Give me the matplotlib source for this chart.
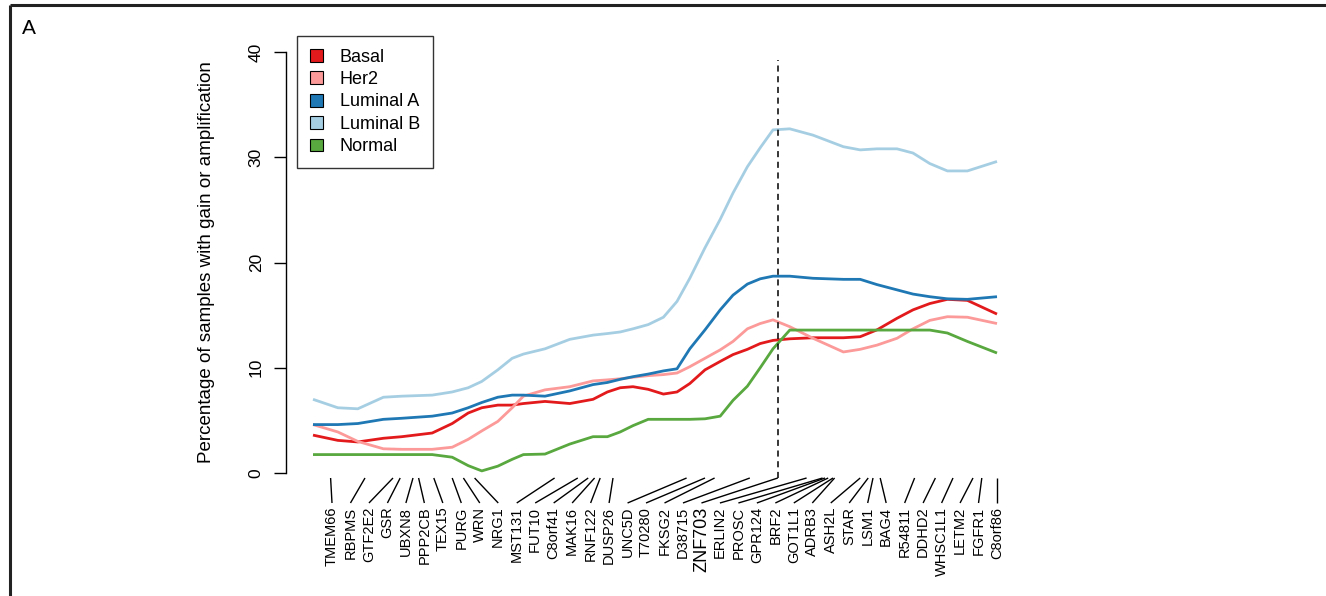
import numpy as np
import matplotlib
matplotlib.use("Agg")
import matplotlib.pyplot as plt
from matplotlib.patches import Patch
from matplotlib.lines import Line2D

plt.rcParams.update({
    "font.family": ["Liberation Sans", "DejaVu Sans"],
    "font.size": 12.5,
    "axes.linewidth": 1.0,
    "lines.solid_capstyle": "butt",
    "lines.solid_joinstyle": "round",
})

# subtype colours
SUBTYPE_COLORS = {
    "Basal": "#E31A1C",
    "Her2": "#FB9A99",
    "Luminal A": "#1F78B4",
    "Luminal B": "#A6CEE3",
    "Normal": "#58A83F",
}

# probe positions along the 8p11-12 region
position = [30.00, 30.31, 30.56, 30.88, 31.11, 31.49, 31.74, 31.94, 32.11, 32.31,
            32.49, 32.63, 32.90, 33.21, 33.50, 33.68, 33.84, 34.00, 34.19, 34.38,
            34.55, 34.71, 34.90, 35.09, 35.25, 35.43, 35.59, 35.75, 35.96, 36.25,
            36.63, 36.84, 37.05, 37.30, 37.50, 37.71, 37.93, 38.18, 38.55]

# percentage of samples with gain or amplification per subtype
basal = [3.6, 3.1, 2.95, 3.3, 3.45, 3.8, 4.7, 5.7, 6.2, 6.45,
         6.45, 6.6, 6.8, 6.6, 7.0, 7.7, 8.1, 8.2, 7.95, 7.5,
         7.7, 8.5, 9.8, 10.6, 11.25, 11.75, 12.3, 12.6, 12.75, 12.85,
         12.85, 12.95, 13.6, 14.7, 15.5, 16.1, 16.5, 16.4, 15.1]
her2 = [4.6, 3.9, 3.0, 2.3, 2.25, 2.25, 2.45, 3.2, 4.0, 4.9,
        6.2, 7.3, 7.9, 8.2, 8.75, 8.85, 8.95, 9.1, 9.25, 9.35,
        9.5, 10.1, 10.9, 11.7, 12.5, 13.7, 14.2, 14.55, 13.9, 12.8,
        11.5, 11.75, 12.15, 12.8, 13.7, 14.5, 14.85, 14.8, 14.2]
luminal_a = [4.6, 4.6, 4.7, 5.1, 5.2, 5.4, 5.7, 6.2, 6.7, 7.2,
             7.4, 7.4, 7.3, 7.8, 8.4, 8.6, 8.9, 9.15, 9.4, 9.7,
             9.9, 11.8, 13.6, 15.5, 16.9, 17.95, 18.45, 18.7, 18.7, 18.5,
             18.4, 18.4, 17.9, 17.4, 17.0, 16.75, 16.55, 16.5, 16.75]
luminal_b = [7.0, 6.2, 6.1, 7.2, 7.3, 7.4, 7.7, 8.1, 8.7, 9.8,
             10.9, 11.3, 11.8, 12.7, 13.1, 13.25, 13.4, 13.7, 14.1, 14.8,
             16.3, 18.5, 21.4, 24.1, 26.6, 29.1, 30.9, 32.6, 32.7, 32.1,
             31.0, 30.7, 30.8, 30.8, 30.4, 29.4, 28.7, 28.7, 29.6]
normal = [1.75, 1.75, 1.75, 1.75, 1.75, 1.75, 1.5, 0.7, 0.2, 0.65,
          1.3, 1.75, 1.8, 2.75, 3.45, 3.45, 3.9, 4.5, 5.1, 5.1,
          5.1, 5.1, 5.15, 5.4, 6.9, 8.25, 10.0, 11.8, 13.58, 13.58,
          13.58, 13.58, 13.58, 13.58, 13.58, 13.58, 13.3, 12.5, 11.4]

# annotated genes and their positions
genes = ["TMEM66", "RBPMS", "GTF2E2", "GSR", "UBXN8", "PPP2CB", "TEX15", "PURG",
         "WRN", "NRG1", "MST131", "FUT10", "C8orf41", "MAK16", "RNF122", "DUSP26",
         "UNC5D", "T70280", "FKSG2", "D38715", "ZNF703", "ERLIN2", "PROSC", "GPR124",
         "BRF2", "GOT1L1", "ADRB3", "ASH2L", "STAR", "LSM1", "BAG4", "R54811",
         "DDHD2", "WHSC1L1", "LETM2", "FGFR1", "C8orf86"]
gene_position = [30.22, 30.65, 31.00, 31.09, 31.25, 31.32, 31.51, 31.74,
                 31.88, 32.02, 33.02, 33.31, 33.44, 33.52, 33.59, 33.75,
                 34.67, 34.90, 35.02, 35.46, 35.81, 36.17, 36.37, 36.40,
                 36.44, 36.50, 36.52, 36.84, 36.94, 37.00, 37.09, 37.52,
                 37.78, 38.00, 38.25, 38.36, 38.55]
highlight_gene = "ZNF703"

series = [
    ("Basal", basal),
    ("Her2", her2),
    ("Luminal A", luminal_a),
    ("Luminal B", luminal_b),
    ("Normal", normal),
]

fig = plt.figure(figsize=(13.26, 5.96), dpi=100)
ax = fig.add_axes([286 / 1326, 106 / 596, 738 / 1326, 450 / 596])

for name, values in series:
    ax.plot(position, values, color=SUBTYPE_COLORS[name], linewidth=2.0)

ax.set_xlim(29.6625, 38.8875)
ax.set_ylim(-1.615, 41.14)

# y axis only, R style
for side in ["top", "right", "bottom"]:
    ax.spines[side].set_visible(False)
ax.spines["left"].set_bounds(0, 40)
ax.set_yticks([0, 10, 20, 30, 40])
ax.set_yticklabels(["0", "10", "20", "30", "40"], rotation=90, va="center")
ax.tick_params(axis="y", length=9, width=1.0, pad=7, labelsize=12.5)
ax.set_xticks([])
ax.set_ylabel("Percentage of samples with gain or amplification", fontsize=13.5)
ax.yaxis.set_label_coords(-0.096, 0.507)

# dashed marker at ZNF703
hl = gene_position[genes.index(highlight_gene)]
ax.plot([hl, hl], [-0.475, 39.2], color="black", linestyle=(0, (4, 3)),
        linewidth=1.1, clip_on=False)

# gene labels spread evenly, tied back to their positions
label_x = np.linspace(30.2375, 38.55, len(genes))
for g, gx, lx in zip(genes, gene_position, label_x):
    ax.plot([gx, lx], [-0.475, -2.85], color="black", linewidth=1.0, clip_on=False)
    ax.text(lx, -3.2, g, rotation=90, ha="center", va="top",
            fontsize=13 if g == highlight_gene else 10.5, clip_on=False)

handles = [Patch(facecolor=SUBTYPE_COLORS[n], edgecolor="black", linewidth=0.8)
           for n, _ in series]
leg = ax.legend(handles, [n for n, _ in series], loc="upper left",
                bbox_to_anchor=(297 / 1326, 1 - 36 / 596), bbox_transform=fig.transFigure,
                frameon=True, fancybox=False, edgecolor="black", fontsize=13,
                handlelength=0.72, handleheight=0.72, handletextpad=0.95,
                borderpad=0.7, labelspacing=0.3, borderaxespad=0)
leg.get_frame().set_linewidth(1.0)

# panel frame and tag
fig.add_artist(Line2D([10 / 1326, 10 / 1326], [0, 1 - 5 / 596], color="#222222",
                      linewidth=2.2, transform=fig.transFigure))
fig.add_artist(Line2D([10 / 1326, 1], [1 - 5 / 596, 1 - 5 / 596], color="#222222",
                      linewidth=2.2, transform=fig.transFigure))
fig.text(22 / 1326, 1 - 28 / 596, "A", fontsize=15, va="center", ha="left")

fig.savefig("out.png", dpi=100)
